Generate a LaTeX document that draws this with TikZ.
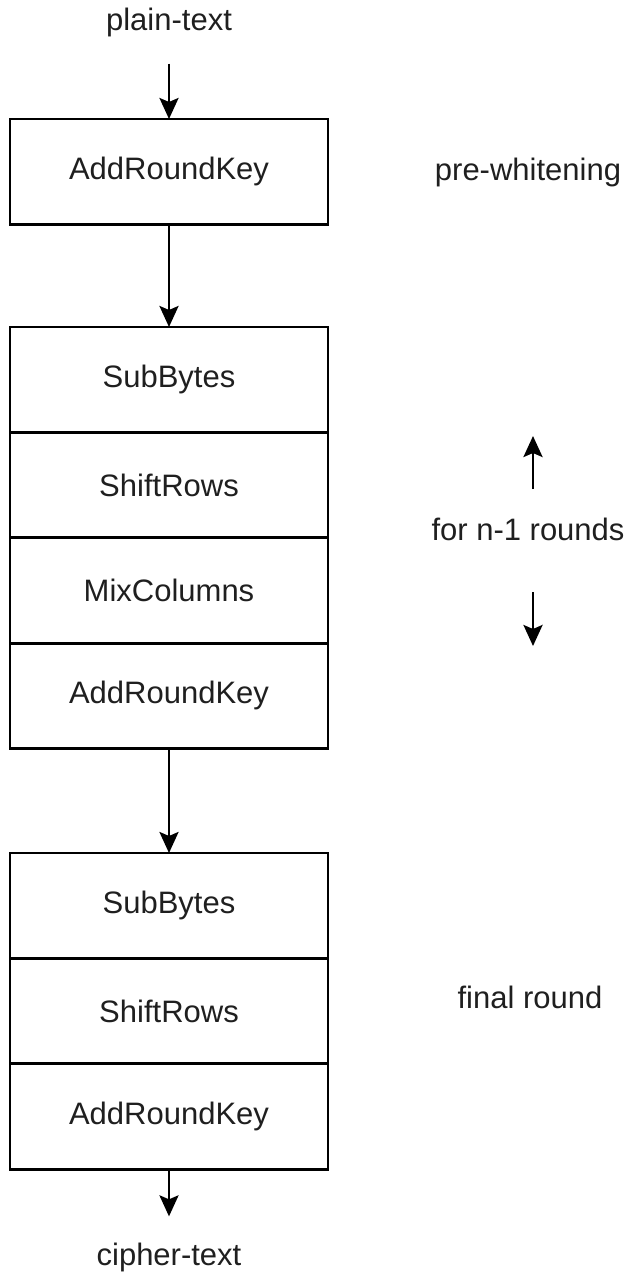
\documentclass[tikz,border=0pt]{standalone}
\usepackage{fontspec}
\setmainfont{Liberation Sans}
\usetikzlibrary{arrows.meta}
\begin{document}
\begin{tikzpicture}[x=1pt,y=-1pt,
  every node/.style={font=\fontsize{31}{37}\selectfont, text=black!88},
  stage/.style={draw, line width=2.8pt, minimum width=318pt, minimum height=105.4pt,
    inner sep=0pt, outer sep=0pt, anchor=north},
  lbl/.style={inner sep=0pt},
  arr/.style={line width=2.8pt, -{Stealth[length=21pt,width=19pt,inset=4pt]}}]
\useasboundingbox (0,0) rectangle (631,1279);
% input / output labels
\node[lbl] (pt) at (169,22) {plain-text};
\node[lbl] (ct) at (169,1257) {cipher-text};
% pre-whitening
\node[stage] (k0) at (169,119) {AddRoundKey};
% main rounds
\node[stage] (s1) at (169,327) {SubBytes};
\node[stage] (r1) at (s1.south) {ShiftRows};
\node[stage] (m1) at (r1.south) {MixColumns};
\node[stage] (k1) at (m1.south) {AddRoundKey};
% final round
\node[stage] (s2) at (169,853) {SubBytes};
\node[stage] (r2) at (s2.south) {ShiftRows};
\node[stage] (k2) at (r2.south) {AddRoundKey};
% flow arrows
\draw[arr, shorten <=27pt] (pt) -- (k0);
\draw[arr] (k0) -- (s1);
\draw[arr] (k1) -- (s2);
\draw[arr, shorten >=26pt] (k2) -- (ct);
% side annotations
\node[lbl] (pw) at (528,172) {pre-whitening};
\node[lbl] (nr) at (528,529) {for n-1 rounds};
\node[lbl] (fr) at (530,997) {final round};
\coordinate (ua) at (533,489);
\coordinate (ub) at (533,436);
\coordinate (da) at (533,592);
\coordinate (db) at (533,646);
\draw[arr] (ua) -- (ub);
\draw[arr] (da) -- (db);
\end{tikzpicture}
\end{document}
